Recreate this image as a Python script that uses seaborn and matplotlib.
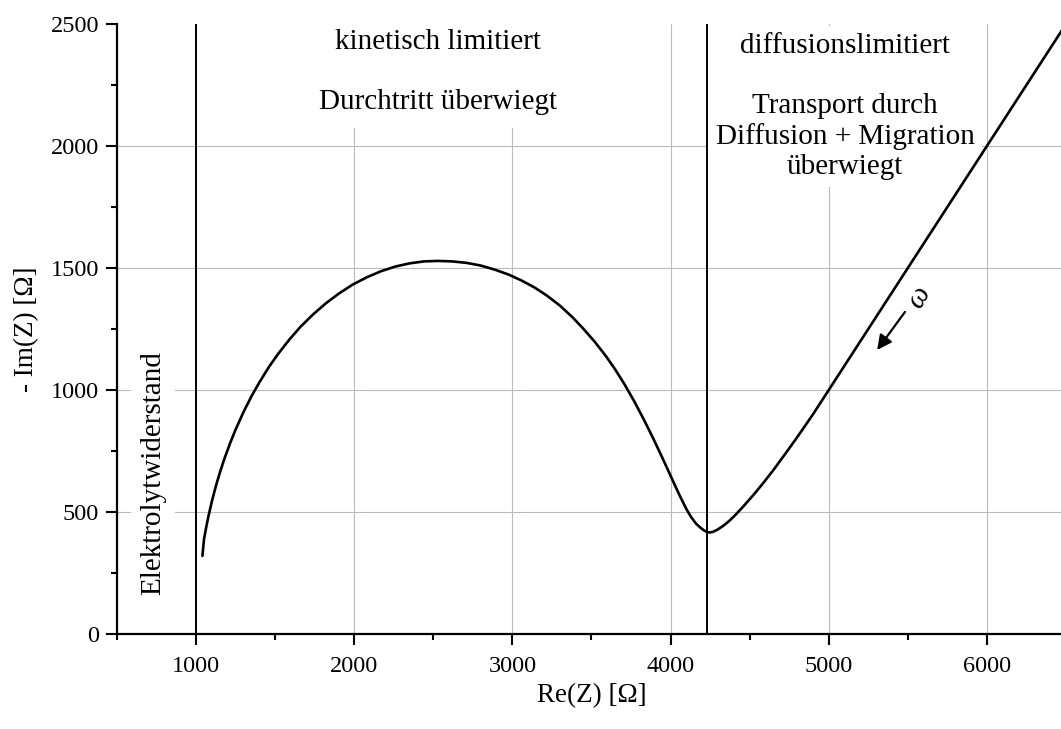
import matplotlib
matplotlib.use("Agg")
import matplotlib.pyplot as plt
from matplotlib.ticker import MultipleLocator
import pandas as pd
import seaborn as sns

# Nyquist curve
re_z = [1040, 1050, 1065, 1080, 1100, 1125, 1150, 1180, 1215, 1250, 1300, 1350,
        1400, 1460, 1520, 1590, 1660, 1740, 1820, 1900, 1990, 2080, 2170, 2260,
        2350, 2440, 2530, 2620, 2710, 2800, 2890, 2980, 3060, 3140, 3220, 3300,
        3380, 3450, 3520, 3590, 3650, 3710, 3770, 3830, 3880, 3930, 3980, 4020,
        4060, 4100, 4130, 4160, 4190, 4215, 4240, 4265, 4295, 4330, 4370, 4410,
        4460, 4520, 4580, 4650, 4720, 4800, 4900, 5000, 5250, 5500, 5750, 6000,
        6250, 6500]
im_z = [320, 388, 441, 488, 544, 606, 661, 720, 782, 838, 910, 974,
        1031, 1094, 1149, 1207, 1259, 1310, 1355, 1394, 1432, 1462, 1487, 1506,
        1519, 1527, 1529, 1527, 1521, 1510, 1493, 1472, 1448, 1420, 1386, 1346,
        1298, 1250, 1198, 1140, 1084, 1022, 954, 880, 815, 747, 677, 620,
        564, 512, 479, 453, 435, 423, 416, 418, 427, 442, 463, 488,
        523, 567, 614, 672, 734, 806, 900, 1000, 1250, 1500, 1750, 2000,
        2250, 2500]

x_ticks = [1000, 2000, 3000, 4000, 5000, 6000]
y_ticks = [0, 500, 1000, 1500, 2000, 2500]
region_lines = [1000, 4230]

left_text = "kinetisch limitiert\n\nDurchtritt überwiegt"
right_text = "diffusionslimitiert\n\nTransport durch\nDiffusion + Migration\nüberwiegt"
resistance_text = "Elektrolytwiderstand"

sns.set_style("ticks")
plt.rcParams["font.family"] = ["Liberation Serif", "DejaVu Serif"]
plt.rcParams["text.color"] = "black"
plt.rcParams["axes.labelcolor"] = "black"
plt.rcParams["xtick.color"] = "black"
plt.rcParams["ytick.color"] = "black"

fig = plt.figure(figsize=(10.61, 7.29), dpi=100)
ax = fig.add_axes([117 / 1061, 95 / 729, 949 / 1061, 610 / 729])

ax.set_axisbelow(True)

df = pd.DataFrame({"Re": re_z, "Im": im_z})
sns.lineplot(data=df, x="Re", y="Im", sort=False, estimator=None,
             color="black", lw=1.9, ax=ax, zorder=5)

for xv in region_lines:
    ax.axvline(xv, color="black", lw=1.4, zorder=4)

ax.set_xlim(500, 6500)
ax.set_ylim(0, 2500)
ax.set_xticks(x_ticks)
ax.set_yticks(y_ticks)
ax.xaxis.set_minor_locator(MultipleLocator(500))
ax.yaxis.set_minor_locator(MultipleLocator(250))
ax.grid(True, which="major", color="#bfbaba", lw=0.8)
ax.yaxis.get_major_ticks()[-1].gridline.set_visible(False)

for s in ["top", "right"]:
    ax.spines[s].set_visible(False)
for s in ["left", "bottom"]:
    ax.spines[s].set_linewidth(1.6)
    ax.spines[s].set_color("black")

ax.tick_params(which="major", direction="out", length=8, width=1.5,
               labelsize=17.5, color="black", pad=5)
ax.tick_params(axis="x", which="major", pad=8)
ax.tick_params(which="minor", direction="out", length=4.5, width=1.5, color="black")

ax.set_xlabel("Re(Z) [Ω]", fontsize=19.5, labelpad=4)
ax.set_ylabel("- Im(Z) [Ω]", fontsize=19.5, labelpad=8)

ax.text(2528, 2305, left_text, ha="center", va="center", fontsize=21,
        linespacing=1.2, zorder=3,
        bbox=dict(boxstyle="square,pad=0.45", facecolor="white", edgecolor="none"))
ax.text(5103, 2162, right_text, ha="center", va="center", fontsize=21,
        linespacing=1.2, zorder=3,
        bbox=dict(boxstyle="square,pad=0.25", facecolor="white", edgecolor="none"))
ax.text(728, 660, resistance_text, ha="center", va="center", fontsize=21,
        rotation=90, zorder=3,
        bbox=dict(boxstyle="square,pad=0.3", facecolor="white", edgecolor="none"))

ax.annotate("", xy=(5306, 1164), xytext=(5482, 1320),
            arrowprops=dict(arrowstyle="-|>", lw=1.6, color="black",
                            mutation_scale=22, shrinkA=0, shrinkB=0), zorder=6)
ax.text(5570, 1380, "ω", fontsize=21, style="italic", rotation=60,
        ha="center", va="center", zorder=6)

fig.savefig("out.png", dpi=100)
